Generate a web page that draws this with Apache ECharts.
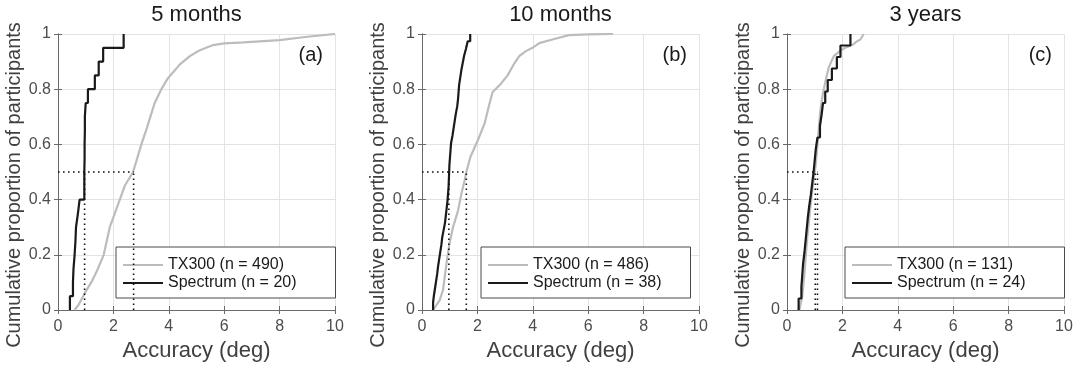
<!DOCTYPE html>
<html>
<head>
<meta charset="utf-8">
<script src="https://cdn.jsdelivr.net/npm/echarts@6/dist/echarts.min.js"></script>
<style>
  html, body { margin: 0; padding: 0; background: #fff; }
  #chart { width: 1081px; height: 370px; }
</style>
</head>
<body>
<div id="chart"></div>
<script>
// panel titles and labels
const titles = ['5 months', '10 months', '3 years'];
const panelTags = ['(a)', '(b)', '(c)'];
const xTicks = [0, 2, 4, 6, 8, 10];
const yTicks = [0, 0.2, 0.4, 0.6, 0.8, 1];

// Spectrum accuracies (sorted, one per participant)
const spectrumA = [0.43, 0.54, 0.56, 0.60, 0.63, 0.65, 0.72, 0.78, 0.95, 0.95,
  0.96, 0.96, 0.97, 0.97, 1.00, 1.08, 1.33, 1.47, 1.63, 2.37];
const spectrumB = [0.40, 0.43, 0.47, 0.51, 0.55, 0.58, 0.62, 0.66, 0.70, 0.73,
  0.78, 0.83, 0.86, 0.89, 0.92, 0.94, 0.96, 0.97, 0.98, 0.99,
  1.01, 1.03, 1.05, 1.10, 1.14, 1.18, 1.22, 1.27, 1.30, 1.32,
  1.34, 1.38, 1.42, 1.47, 1.52, 1.59, 1.65, 1.74];
const spectrumC = [0.42, 0.52, 0.55, 0.58, 0.63, 0.67, 0.71, 0.75, 0.80, 0.86,
  0.91, 0.96, 1.00, 1.04, 1.10, 1.19, 1.25, 1.30, 1.38, 1.47,
  1.62, 1.80, 1.93, 2.29];

// TX300 cumulative curves: [accuracy, proportion]
const tx300A = [[0.60, 0], [0.75, 0.02], [0.96, 0.06], [1.2, 0.1], [1.4, 0.14], [1.65, 0.2],
  [1.87, 0.3], [2.05, 0.35], [2.41, 0.45], [2.71, 0.5], [3.01, 0.6], [3.21, 0.66],
  [3.49, 0.75], [3.73, 0.8], [3.97, 0.84], [4.4, 0.89], [4.76, 0.92], [5.1, 0.94],
  [5.6, 0.96], [6.0, 0.966], [6.7, 0.97], [8.0, 0.978], [9.0, 0.99], [10, 1.0]];
const tx300B = [[0.40, 0], [0.64, 0.036], [0.76, 0.073], [0.82, 0.12], [0.90, 0.18],
  [0.99, 0.24], [1.12, 0.30], [1.30, 0.36], [1.42, 0.42], [1.54, 0.47], [1.60, 0.50],
  [1.75, 0.555], [2.02, 0.616], [2.26, 0.676], [2.41, 0.737], [2.55, 0.79], [2.85, 0.82],
  [3.09, 0.85], [3.33, 0.893], [3.51, 0.92], [3.75, 0.938], [3.99, 0.95], [4.23, 0.967],
  [4.71, 0.98], [5.3, 0.996], [6.0, 0.999], [6.9, 1.0]];
const tx300C = [[0.45, 0], [0.55, 0.05], [0.62, 0.12], [0.72, 0.25], [0.85, 0.38],
  [0.97, 0.48], [1.03, 0.52], [1.1, 0.6], [1.15, 0.66], [1.2, 0.72], [1.29, 0.78],
  [1.39, 0.83], [1.51, 0.88], [1.69, 0.92], [1.93, 0.94], [2.1, 0.95], [2.35, 0.96],
  [2.55, 0.975], [2.65, 0.98], [2.77, 1.0]];

const txCounts = [490, 486, 131];
// medians [Spectrum, TX300]
const medians = [[0.96, 2.73], [0.97, 1.6], [1.02, 1.1]];

const spectra = [spectrumA, spectrumB, spectrumC];
const txCurves = [tx300A, tx300B, tx300C];

const gridLefts = [58, 422, 787];
const gridWidth = 277;
const legendBoxes = [[116, 39], [481, 29], [845, 39]]; // left, right padding

const axisGray = '#6a6a6a';
const textGray = '#4d4d4d';
const font = '"Liberation Sans", Arial, Helvetica, sans-serif';

function ecdf(vals) {
  const pts = [[vals[0], 0]];
  vals.forEach((v, i) => pts.push([v, (i + 1) / vals.length]));
  return pts;
}

const grid = [], xAxis = [], yAxis = [], series = [], legend = [], title = [];

titles.forEach((t, i) => {
  grid.push({ left: gridLefts[i], top: 34, width: gridWidth, height: 276 });

  const base = {
    type: 'value', gridIndex: i,
    axisLine: { show: true, lineStyle: { color: axisGray, width: 1 } },
    axisTick: { show: true, inside: true, length: 4, lineStyle: { color: axisGray } }
  };
  xAxis.push(Object.assign({}, base, {
    position: 'bottom', min: 0, max: 10, interval: 2,
    axisLabel: { fontSize: 16, color: textGray, fontFamily: font, margin: 9 },
    splitLine: { show: true, lineStyle: { color: '#e3e3e3' } },
    name: 'Accuracy (deg)', nameLocation: 'middle', nameGap: 24,
    nameTextStyle: { fontSize: 22, color: '#404040', fontFamily: font }
  }));
  xAxis.push(Object.assign({}, base, {
    position: 'top', min: 0, max: 10, interval: 2,
    axisLabel: { show: false }, splitLine: { show: false }
  }));
  yAxis.push(Object.assign({}, base, {
    position: 'left', min: 0, max: 1, interval: 0.2,
    axisLabel: { fontSize: 16, color: textGray, fontFamily: font, margin: 7 },
    splitLine: { show: true, lineStyle: { color: '#e3e3e3' } },
    name: 'Cumulative proportion of participants', nameLocation: 'middle', nameGap: 30,
    nameTextStyle: { fontSize: 20, color: '#404040', fontFamily: font, padding: [0, 26, 0, 0] }
  }));
  yAxis.push(Object.assign({}, base, {
    position: 'right', min: 0, max: 1, interval: 0.2,
    axisLabel: { show: false }, splitLine: { show: false }
  }));

  const txName = 'TX300 (n = ' + txCounts[i] + ')';
  const spName = 'Spectrum (n = ' + spectra[i].length + ')';
  const xi = i * 2, yi = i * 2;

  series.push({
    name: txName, type: 'line', xAxisIndex: xi, yAxisIndex: yi,
    data: txCurves[i], showSymbol: false, symbol: 'none',
    lineStyle: { color: '#bcbcbc', width: 2.2 }, itemStyle: { color: '#bcbcbc' }
  });
  series.push({
    name: spName, type: 'line', xAxisIndex: xi, yAxisIndex: yi,
    data: ecdf(spectra[i]), step: 'end', showSymbol: false, symbol: 'none',
    lineStyle: { color: '#1a1a1a', width: 2.2 }, itemStyle: { color: '#1a1a1a' }, z: 3
  });

  const m = medians[i];
  const dotted = { type: 'line', xAxisIndex: xi, yAxisIndex: yi, showSymbol: false, symbol: 'none',
    lineStyle: { color: '#111', width: 1.6, type: [1.6, 3.4] }, silent: true, z: 4 };
  series.push(Object.assign({}, dotted, { data: [[0, 0.5], [Math.max(m[0], m[1]), 0.5]] }));
  series.push(Object.assign({}, dotted, { data: [[m[0], 0], [m[0], 0.5]] }));
  series.push(Object.assign({}, dotted, { data: [[m[1], 0], [m[1], 0.5]] }));

  legend.push({
    data: [txName, spName], orient: 'vertical', icon: 'rect',
    left: legendBoxes[i][0], top: 247,
    padding: [10, legendBoxes[i][1], 7, 7],
    itemWidth: 40, itemHeight: 2.2, itemGap: 2, itemTextGap: 4,
    borderColor: '#4a4a4a', borderWidth: 1, backgroundColor: '#fff',
    textStyle: { fontSize: 16, lineHeight: 16, color: '#1a1a1a', fontFamily: font }
  });

  title.push({
    text: t, left: gridLefts[i] + gridWidth / 2, textAlign: 'center', top: 4, padding: 0,
    textStyle: { fontSize: 22, fontWeight: 'normal', color: '#1a1a1a', fontFamily: font }
  });
  title.push({
    text: panelTags[i], right: 1081 - (gridLefts[i] + gridWidth - 12), top: 45, padding: 0,
    textStyle: { fontSize: 20, fontWeight: 'normal', color: '#1a1a1a', fontFamily: font }
  });
});

const chart = echarts.init(document.getElementById('chart'), null, { renderer: 'canvas' });
chart.setOption({
  animation: false,
  backgroundColor: '#fff',
  title, grid, xAxis, yAxis, legend, series
});
</script>
</body>
</html>
